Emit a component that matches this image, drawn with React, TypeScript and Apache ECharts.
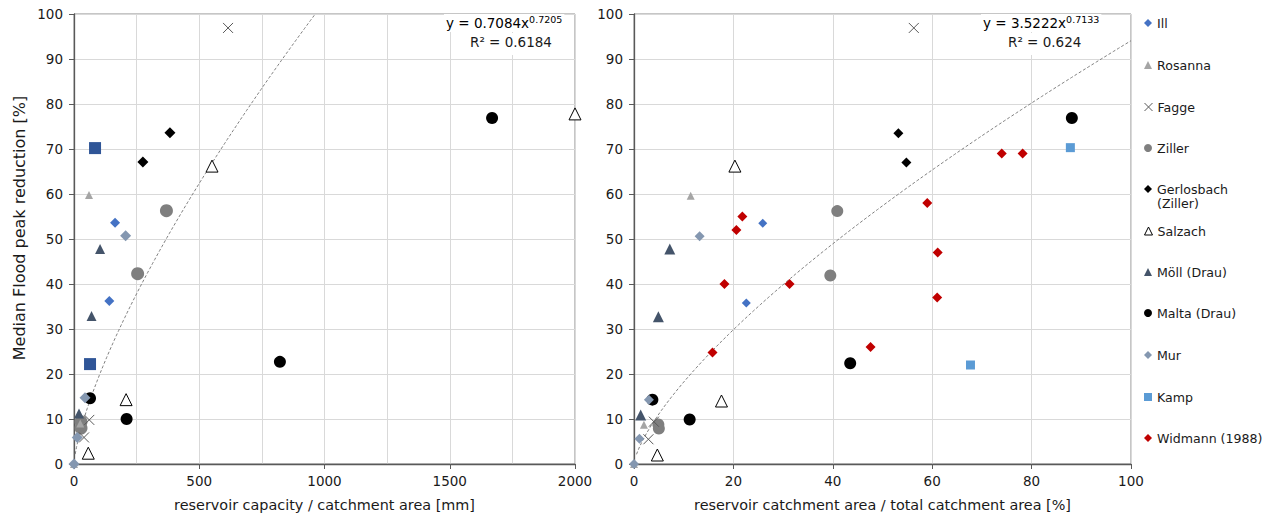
import React, { useEffect, useRef } from "react";
import * as echarts from "echarts";

// ---- Data (left: reservoir capacity / catchment area [mm]) ----
const illL = [[164, 53.6], [141, 36.2]];
const rosannaL = [[60, 59.8], [25, 9.0], [0, 0]];
const faggeL = [[615, 96.9], [61, 9.8], [40, 5.9]];
const zillerL = [[369, 56.3], [254, 42.3], [28, 9.4], [28, 8.0]];
const gerlosL = [[383, 73.6], [275, 67.1]];
const salzachL = [[551, 66.2], [2000, 77.8], [208, 14.3], [57, 2.4]];
const mollL = [[104, 47.8], [70, 32.9], [20, 11.2]];
const maltaL = [[1669, 76.9], [822, 22.7], [210, 10.0], [64, 14.6]];
const murL = [[206, 50.7], [44, 14.7], [13, 5.9], [0, 0]];
const kampL = [[84, 70.2], [64, 22.2]];

// ---- Data (right: reservoir catchment area / total catchment area [%]) ----
const illR = [[25.9, 53.5], [22.6, 35.8]];
const rosannaR = [[11.4, 59.6], [2.0, 8.7], [0, 0]];
const faggeR = [[56.3, 96.9], [4.0, 9.4], [2.9, 5.5]];
const zillerR = [[40.9, 56.2], [39.5, 41.9], [4.9, 8.8], [5.0, 7.9]];
const gerlosR = [[53.2, 73.5], [54.8, 67.0]];
const salzachR = [[20.3, 66.2], [17.6, 14.0], [4.7, 2.0]];
const mollR = [[7.2, 47.8], [4.9, 32.7], [1.35, 10.9]];
const maltaR = [[88.1, 76.9], [43.5, 22.4], [11.2, 9.9], [3.7, 14.3]];
const murR = [[13.2, 50.6], [3.0, 14.3], [1.1, 5.6], [0, 0]];
const kampR = [[87.8, 70.3], [67.7, 22.0]];
const widmannR = [
  [15.8, 24.8], [18.2, 40.0], [20.6, 52.0], [21.8, 55.0], [31.3, 40.0], [47.6, 26.0],
  [59.0, 58.0], [61.1, 47.0], [61.0, 37.0], [74.0, 69.0], [78.2, 69.0],
];

// Trend line coefficients (power fit shown on chart)
const trendL = { a: 0.7084, b: 0.7205, xMax: 963 };
const trendR = { a: 3.5222, b: 0.7133, xMax: 100 };

const xTicksL = [0, 2000, 500];
const xTicksR = [0, 100, 20];
const yTicks = [0, 100, 10];

const FONT = "DejaVu Sans";
const TXT = "#1a1a1a";
const CROSS = "path://M0,0L10,10M10,0L0,10";

function trendPoints(t: { a: number; b: number; xMax: number }) {
  const pts: number[][] = [];
  const n = 200;
  for (let i = 1; i <= n; i++) {
    const x = (t.xMax * i) / n;
    pts.push([x, t.a * Math.pow(x, t.b)]);
  }
  return pts;
}

type Style = { symbol: string; color: string; border?: string; bw?: number };
const styles: Record<string, Style> = {
  Ill: { symbol: "diamond", color: "#4472C4" },
  Rosanna: { symbol: "triangle", color: "#A5A5A5" },
  Fagge: { symbol: CROSS, color: "rgba(0,0,0,0)", border: "#595959", bw: 1 },
  Ziller: { symbol: "circle", color: "#7F7F7F" },
  "Gerlosbach (Ziller)": { symbol: "diamond", color: "#000000" },
  Salzach: { symbol: "triangle", color: "#FFFFFF", border: "#000000", bw: 1 },
  "Möll (Drau)": { symbol: "triangle", color: "#44546A" },
  "Malta (Drau)": { symbol: "circle", color: "#000000" },
  Mur: { symbol: "diamond", color: "#8497B0" },
  Kamp: { symbol: "rect", color: "#5B9BD5" },
  "Widmann (1988)": { symbol: "diamond", color: "#C00000" },
};

function sc(name: string, data: number[][], idx: number, size: number, color?: string) {
  const s = styles[name];
  return {
    type: "scatter",
    name,
    xAxisIndex: idx,
    yAxisIndex: idx,
    data,
    symbol: s.symbol,
    symbolSize: size,
    itemStyle: {
      color: color || s.color,
      borderColor: s.border || "transparent",
      borderWidth: s.bw || 0,
      opacity: 1,
    },
    emphasis: { disabled: true },
    z: 3,
  };
}

const legendNames = [
  "Ill", "Rosanna", "Fagge", "Ziller", "Gerlosbach (Ziller)", "Salzach",
  "Möll (Drau)", "Malta (Drau)", "Mur", "Kamp", "Widmann (1988)",
];
const legendY = [23, 65, 107, 148, 189, 231, 272, 313, 355, 397, 438];

function xAxisCfg(idx: number, ticks: number[], name: string) {
  return {
    type: "value",
    gridIndex: idx,
    min: ticks[0],
    max: ticks[1],
    interval: ticks[2],
    name,
    nameLocation: "middle",
    nameGap: 34,
    nameTextStyle: { fontFamily: FONT, fontSize: 14.4, color: TXT },
    axisLine: { show: true, lineStyle: { color: "#595959", width: 1.3 } },
    axisTick: { show: true, length: 5, lineStyle: { color: "#595959" } },
    axisLabel: { fontFamily: FONT, fontSize: 13.5, color: TXT, margin: 10, formatter: (v: number) => String(v) },
    splitLine: { show: true, lineStyle: { color: "#D9D9D9", width: 1 } },
    minorTick: { show: false, splitNumber: idx === 0 ? 2 : 1 },
    minorSplitLine: { show: idx === 0, lineStyle: { color: "#D9D9D9", width: 1 } },
  };
}

function yAxisCfg(idx: number) {
  return {
    type: "value",
    gridIndex: idx,
    min: yTicks[0],
    max: yTicks[1],
    interval: yTicks[2],
    axisLine: { show: true, lineStyle: { color: "#595959", width: 1.3 } },
    axisTick: { show: true, length: 5, lineStyle: { color: "#595959" } },
    axisLabel: { fontFamily: FONT, fontSize: 13.5, color: TXT, margin: 11, formatter: (v: number) => String(v) },
    splitLine: { show: true, lineStyle: { color: "#D9D9D9", width: 1 } },
  };
}

export default function App() {
  const ref = useRef<HTMLDivElement>(null);
  useEffect(() => {
    document.body.style.margin = "0";
    const chart = echarts.init(ref.current!, undefined, { renderer: "svg" });
    const trendStyle = { color: "#7F7F7F", width: 1, type: [3, 2] };
    const series: any[] = [
      {
        type: "line", name: "trendL", xAxisIndex: 0, yAxisIndex: 0, data: trendPoints(trendL),
        showSymbol: false, symbol: "none", lineStyle: trendStyle, z: 2, silent: true,
      },
      {
        type: "line", name: "trendR", xAxisIndex: 1, yAxisIndex: 1, data: trendPoints(trendR),
        showSymbol: false, symbol: "none", lineStyle: trendStyle, z: 2, silent: true,
      },
      sc("Salzach", salzachL, 0, 12),
      sc("Ziller", zillerL, 0, 13),
      sc("Malta (Drau)", maltaL, 0, 12),
      sc("Rosanna", rosannaL, 0, 8),
      sc("Möll (Drau)", mollL, 0, 10),
      sc("Kamp", kampL, 0, 12, "#2F5597"),
      sc("Gerlosbach (Ziller)", gerlosL, 0, 11),
      sc("Ill", illL, 0, 10),
      sc("Mur", murL, 0, 11),
      sc("Fagge", faggeL, 0, 10),

      sc("Salzach", salzachR, 1, 12),
      sc("Ziller", zillerR, 1, 12),
      sc("Malta (Drau)", maltaR, 1, 12),
      sc("Rosanna", rosannaR, 1, 8),
      sc("Möll (Drau)", mollR, 1, 11),
      sc("Kamp", kampR, 1, 9),
      sc("Gerlosbach (Ziller)", gerlosR, 1, 10),
      sc("Ill", illR, 1, 9),
      sc("Mur", murR, 1, 10),
      sc("Widmann (1988)", widmannR, 1, 10),
      sc("Fagge", faggeR, 1, 10),
    ];

    const legends = legendNames.map((name, i) => {
      const s = styles[name];
      return {
        left: 1144,
        top: legendY[i] - 8,
        orient: "vertical",
        padding: 0,
        itemGap: 0,
        itemWidth: 8,
        itemHeight: 8,
        selectedMode: false,
        formatter: (n: string) => (n === "Gerlosbach (Ziller)" ? "Gerlosbach" : n),
        textStyle: { fontFamily: FONT, fontSize: 12.6, color: TXT, lineHeight: 16 },
        data: [
          {
            name,
            icon: s.symbol,
            itemStyle: {
              color: s.color,
              borderColor: s.border || "transparent",
              borderWidth: s.bw || 0,
            },
          },
        ],
      };
    });

    const eqRich = {
      a: { fontFamily: FONT, fontSize: 13.5, color: TXT, lineHeight: 18 },
      b: { fontFamily: FONT, fontSize: 9.5, color: TXT, verticalAlign: "top", lineHeight: 18, padding: [0, 0, 5, 0] },
    };

    chart.setOption({
      animation: false,
      grid: [
        { left: 74, top: 14, width: 501, height: 450, show: true, borderColor: "#8C8C8C", borderWidth: 1, backgroundColor: "transparent" },
        { left: 634, top: 14, width: 497, height: 450, show: true, borderColor: "#8C8C8C", borderWidth: 1, backgroundColor: "transparent" },
      ],
      xAxis: [
        xAxisCfg(0, xTicksL, "reservoir capacity / catchment area [mm]"),
        xAxisCfg(1, xTicksR, "reservoir catchment area / total catchment area [%]"),
      ],
      yAxis: [yAxisCfg(0), yAxisCfg(1)],
      legend: legends,
      series,
      graphic: [
        {
          type: "text", x: 19, y: 228, rotation: Math.PI / 2,
          style: {
            text: "Median Flood peak reduction [%]", fontFamily: FONT, fontSize: 16, fill: TXT,
            align: "center", verticalAlign: "middle",
          },
        },
        {
          type: "text", left: 444, top: 14, z: 100,
          style: {
            text: "{a|y = 0.7084x}{b|0.7205}",
            rich: eqRich, backgroundColor: "#fff", padding: [0, 2, 0, 2],
          },
        },
        {
          type: "text", left: 468, top: 33, z: 100,
          style: { text: "R² = 0.6184", fontFamily: FONT, fontSize: 13.5, fill: TXT, backgroundColor: "#fff", lineHeight: 18, padding: [0, 2, 4, 2] },
        },
        {
          type: "text", left: 981, top: 14, z: 100,
          style: {
            text: "{a|y = 3.5222x}{b|0.7133}",
            rich: eqRich, backgroundColor: "#fff", padding: [0, 2, 0, 2],
          },
        },
        {
          type: "text", left: 1006, top: 33, z: 100,
          style: { text: "R² = 0.624", fontFamily: FONT, fontSize: 13.5, fill: TXT, backgroundColor: "#fff", lineHeight: 18, padding: [0, 2, 4, 2] },
        },
        {
          type: "text", left: 1157, top: 197,
          style: { text: "(Ziller)", fontFamily: FONT, fontSize: 12.6, fill: TXT },
        },
      ],
    });
    return () => chart.dispose();
  }, []);
  return <div ref={ref} style={{ width: 1275, height: 518 }} />;
}
